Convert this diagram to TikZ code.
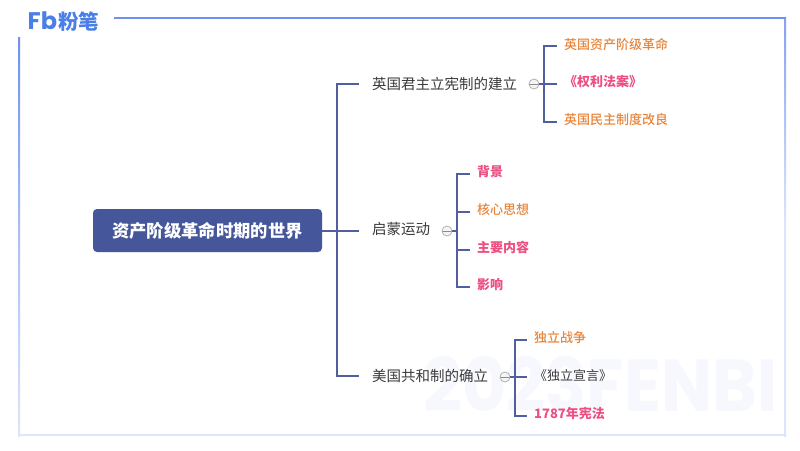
\documentclass[tikz,border=0pt]{standalone}
\usepackage{fontspec}
\setmainfont{Noto Sans CJK SC}
\newfontfamily\logofont{Poppins}
\newfontfamily\medfont{Noto Sans CJK SC Medium}
\usetikzlibrary{calc}
\definecolor{navy}{HTML}{525F9E}
\definecolor{rootfill}{HTML}{46569B}
\definecolor{orangetxt}{HTML}{E8853A}
\definecolor{pinktxt}{HTML}{EE4F82}
\definecolor{graytxt}{HTML}{3A3A3A}
\definecolor{logoblue}{HTML}{4B7FE8}
\definecolor{framefade}{HTML}{DCE6FB}
\definecolor{framestrong}{HTML}{6F90EE}
\definecolor{wm}{HTML}{F6F8FE}
\tikzset{
  x=1pt,y=-1pt,
  rootbox/.style={fill=rootfill,rounded corners=4pt,minimum width=229pt,minimum height=43pt,inner sep=0pt,text=white,font=\fontsize{17.3}{20}\selectfont\bfseries},
  lvlone/.style={anchor=west,inner sep=0pt,text=graytxt,font=\fontsize{14.5}{17}\selectfont},
  leafo/.style={anchor=west,inner sep=0pt,text=orangetxt,font=\medfont\fontsize{13}{16}\selectfont},
  leafp/.style={anchor=west,inner sep=0pt,text=pinktxt,font=\fontsize{13}{16}\selectfont\bfseries},
  leafg/.style={anchor=west,inner sep=0pt,text=graytxt,font=\fontsize{13}{16}\selectfont},
  conn/.style={draw=navy,line width=2pt},
  thinconn/.style={draw=navy,line width=1.6pt},
  stemconn/.style={draw=navy,line width=1.1pt},
  fold/.style={circle,draw=gray!60,fill=gray!8,line width=0.8pt,minimum size=10pt,inner sep=0pt,
     path picture={\draw[gray!90,line width=0.6pt] (path picture bounding box.west) -- (path picture bounding box.east);}},
}
\begin{document}
\begin{tikzpicture}
\useasboundingbox (0,0) rectangle (800,450);
\fill[white] (0,0) rectangle (800,450);
% watermark
\node[text=wm,anchor=west,inner sep=0pt] (wmk) at (423,384.5) {\resizebox{354pt}{55pt}{\logofont\bfseries 2023FENBI}};
% frame
\fill[framefade] (18,434) rectangle (786,436);
\shade[top color=framestrong,bottom color=framefade,middle color=framestrong!45!framefade] (18,37) rectangle (20,436);
\shade[top color=framestrong!80!framefade,bottom color=framefade,middle color=framefade] (784,17) rectangle (786,436);
\fill[framestrong] (114,17) rectangle (786,19);
% logo
\node[text=logoblue,font=\logofont\fontsize{24}{24}\selectfont\bfseries,anchor=west,inner sep=0pt] (logo) at (27.5,20.5) {Fb};
\node[text=logoblue,font=\fontsize{20.5}{22}\selectfont\bfseries,anchor=west,inner sep=0pt] (logotext) at (58,21.5) {粉笔};
% nodes
\node[rootbox] (root) at (207.5,230.5) {资产阶级革命时期的世界};
\node[lvlone] (a) at (372,84) {英国君主立宪制的建立};
\node[lvlone] (b) at (372,229) {启蒙运动};
\node[lvlone] (c) at (372,376) {美国共和制的确立};
\node[fold] (fa1) at (534,84) {};
\node[fold] (fb1) at (447,231) {};
\node[fold] (fc1) at (505,377) {};
\node[leafo] (a1) at (564,44.5) {英国资产阶级革命};
\node[leafp] (a2) at (564,82) {《权利法案》};
\node[leafo] (a3) at (564,119.5) {英国民主制度改良};
\node[leafp] (b1) at (477,172) {背景};
\node[leafo] (b2) at (477,210) {核心思想};
\node[leafp] (b3) at (477,247) {主要内容};
\node[leafp] (b4) at (477,285) {影响};
\node[leafo] (c1) at (534,338) {独立战争};
\node[leafg] (c2) at (534,376) {《独立宣言》};
\node[leafp] (c3) at (534,413) {1787年宪法};
% connector ends
\coordinate (rj) at (337,231);
\coordinate (ra) at (359,84);
\coordinate (rb) at (359,231);
\coordinate (rc) at (359,376);
\coordinate (a1e) at (557,46);
\coordinate (a2e) at (557,84);
\coordinate (a3e) at (557,122);
\coordinate (aj) at (544,84);
\coordinate (b1e) at (470,174);
\coordinate (b2e) at (470,212);
\coordinate (b3e) at (470,250);
\coordinate (b4e) at (470,287);
\coordinate (bj) at (457,231);
\coordinate (c1e) at (527,340);
\coordinate (c2e) at (527,377);
\coordinate (c3e) at (527,416);
\coordinate (cj) at (515,377);
% connectors
\draw[conn] (root.east |- rj) -- (rb);
\draw[conn] (ra) -- (rj |- ra) -- (rj |- rc) -- (rc);
\draw[stemconn] (fa1.east) -- (a2e);
\draw[thinconn] (a1e) -- (aj |- a1e) -- (aj |- a3e) -- (a3e);
\draw[stemconn] (fb1.east) -- (bj);
\draw[thinconn] (b1e) -- (bj |- b1e) -- (bj |- b4e) -- (b4e);
\draw[thinconn] (bj |- b2e) -- (b2e);
\draw[thinconn] (bj |- b3e) -- (b3e);
\draw[stemconn] (fc1.east) -- (c2e);
\draw[thinconn] (c1e) -- (cj |- c1e) -- (cj |- c3e) -- (c3e);
\end{tikzpicture}
\end{document}
